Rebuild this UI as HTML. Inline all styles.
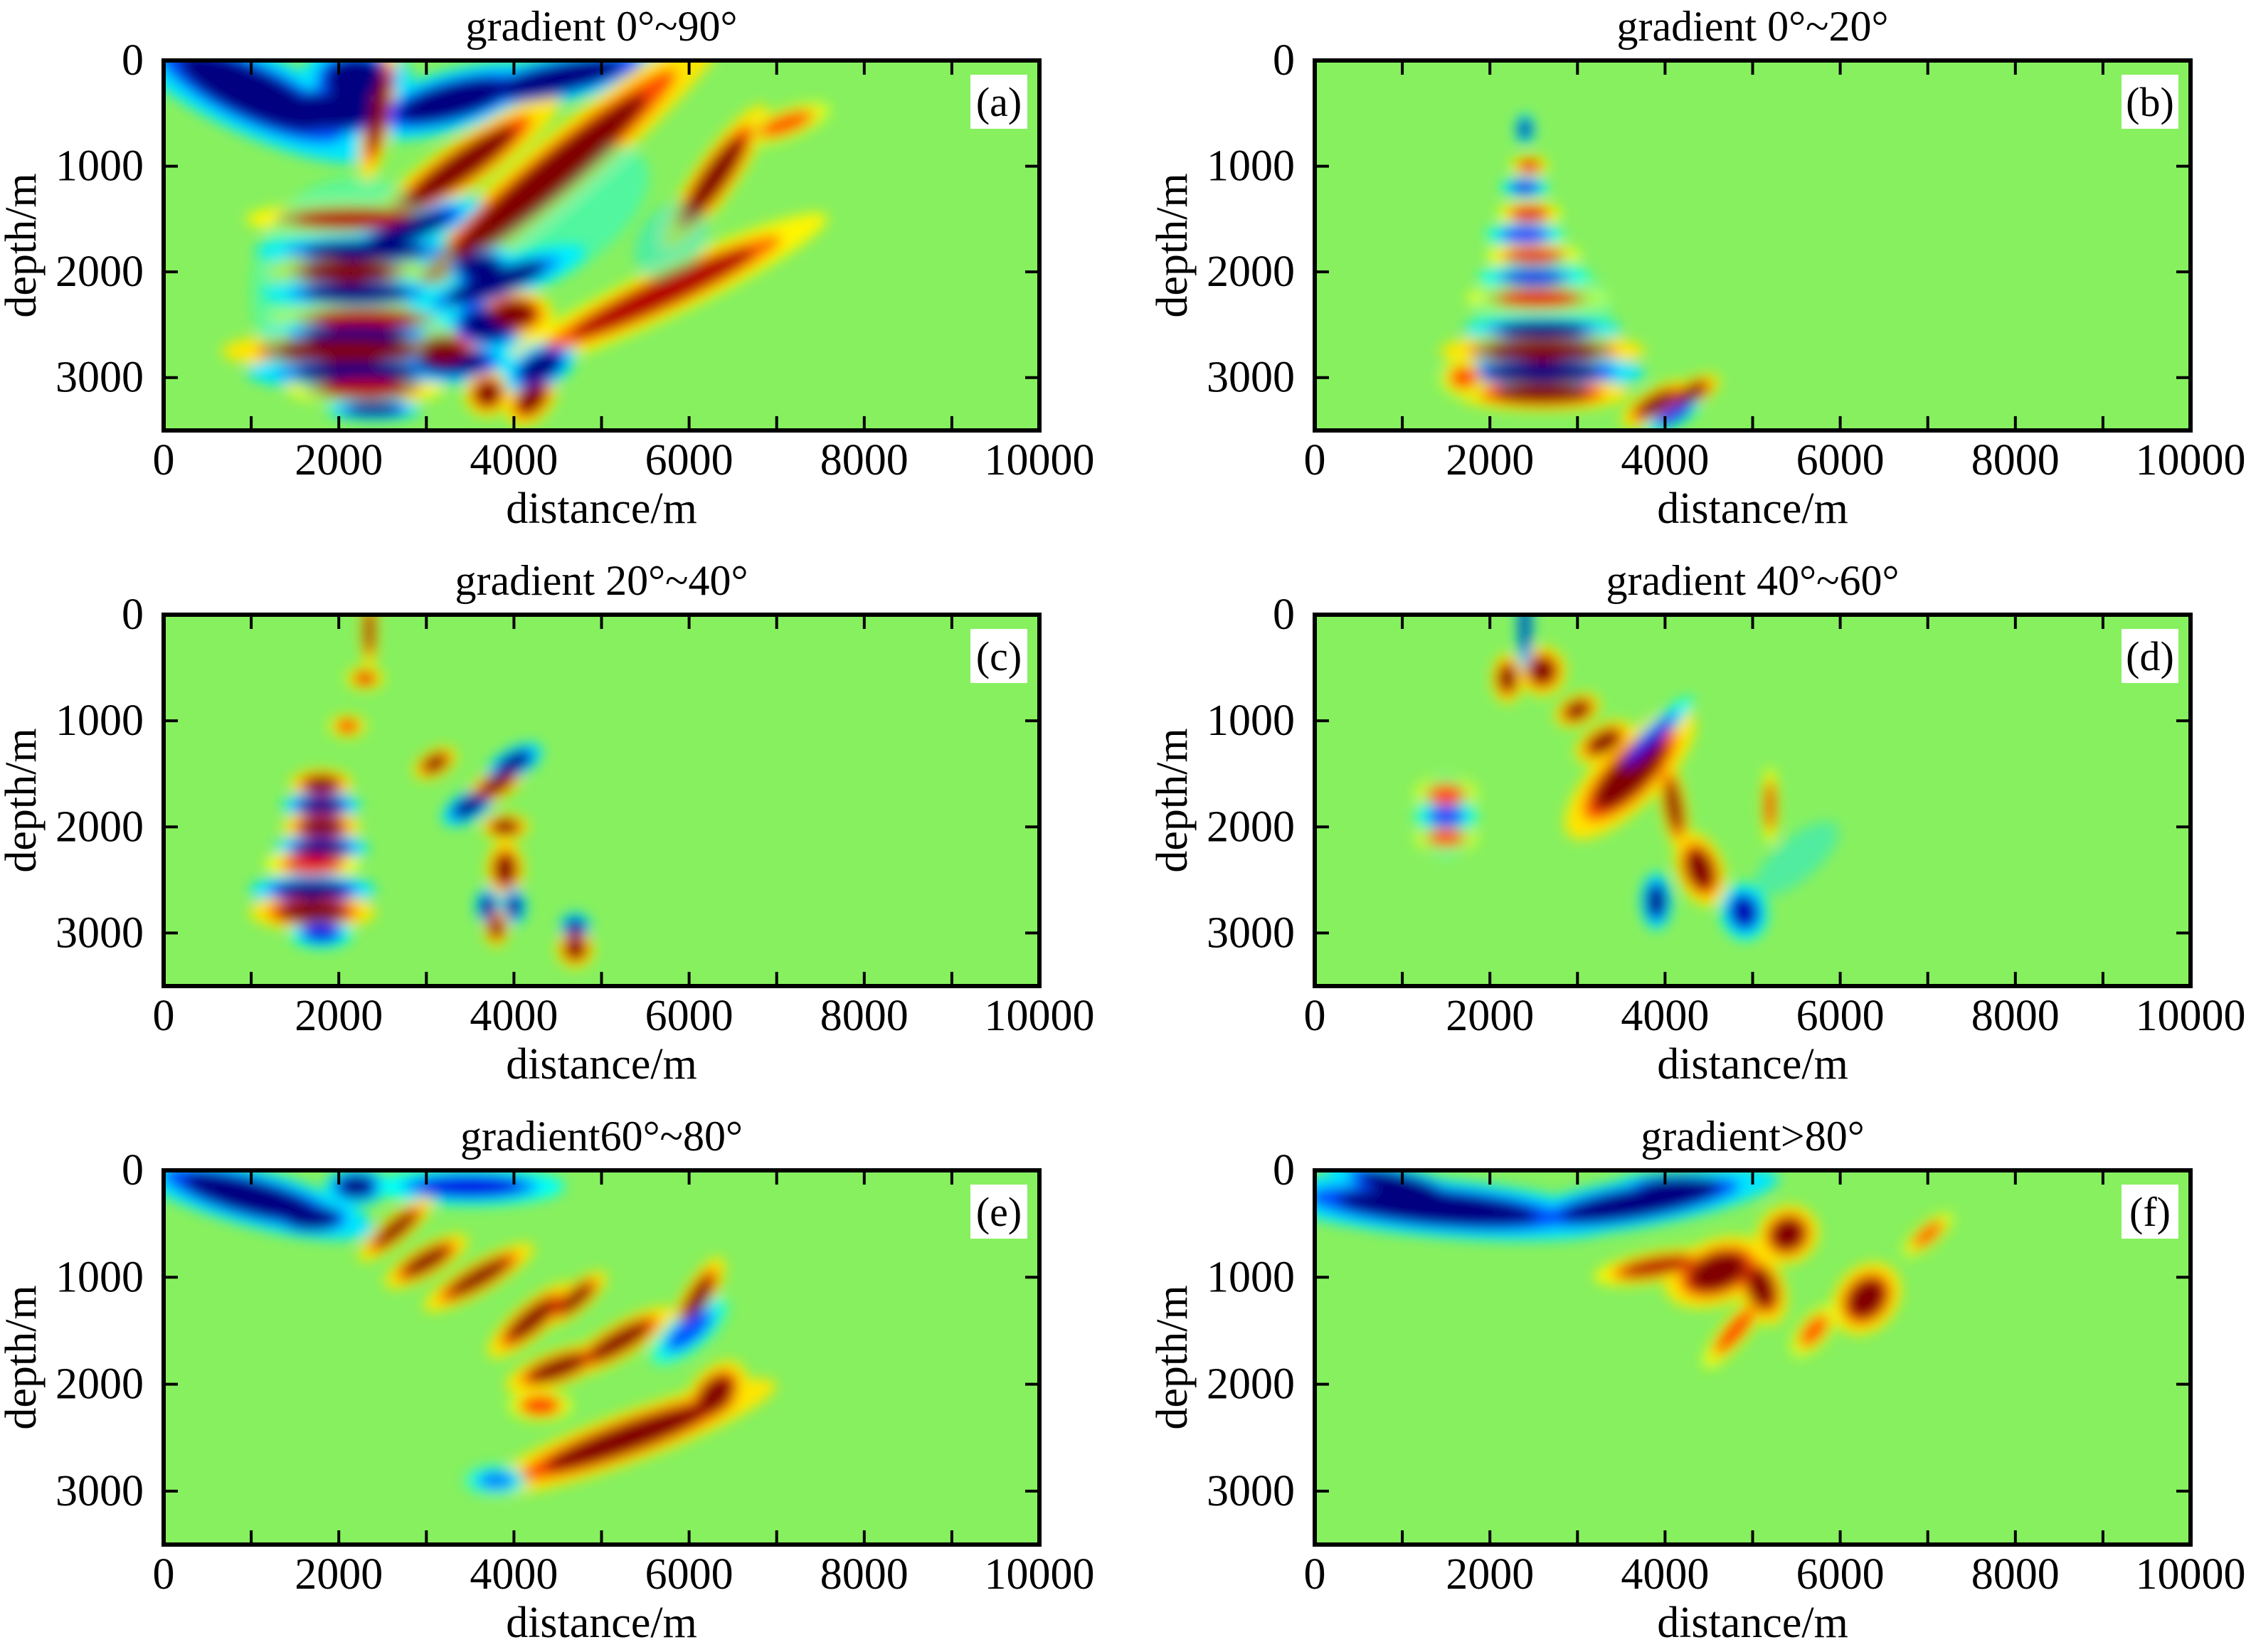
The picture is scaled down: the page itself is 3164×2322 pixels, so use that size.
<!DOCTYPE html>
<html><head><meta charset="utf-8">
<style>
html,body{margin:0;padding:0;background:#fff;}
svg{display:block;}
text{font-family:"Liberation Serif","DejaVu Serif",serif;}
</style></head>
<body>
<svg id="fig" width="3164" height="2322" viewBox="0 0 3164 2322" xmlns="http://www.w3.org/2000/svg" font-family="Liberation Serif, serif">
<defs>
<filter id="soft" x="-10%" y="-10%" width="120%" height="120%"><feGaussianBlur stdDeviation="9"/></filter>
</defs>
</svg>
<script>
// ---- data: blobs [x(m), depth(m), half-length(m), half-width(m), angle(deg), value(-1..1)]
const titles = ["gradient 0°~90°","gradient 0°~20°","gradient 20°~40°","gradient 40°~60°","gradient60°~80°","gradient>80°"];
const tags = ["(a)","(b)","(c)","(d)","(e)","(f)"];
const xTicks = [0,2000,4000,6000,8000,10000];
const yTicks = [0,1000,2000,3000];
const blobsA = [
 [5800,1700,500,300,-50,-0.3],[4500,1500,1200,500,-35,-0.25],[2200,2200,1200,1100,0,-0.2],
 [1000,300,900,220,25,-1],[1900,480,600,170,0,-1],[2200,180,350,200,0,-1],[3300,380,650,160,-15,-1],[4500,170,750,130,-12,-1],
 [2450,500,90,380,10,1],[4400,1100,1450,170,-40,1],[3400,1000,750,130,-35,1],[6300,1100,550,110,-55,1],[5700,2200,1150,130,-25,0.9],
 [7100,600,300,80,-20,0.6],
 [2200,1500,700,90,0,0.9],[2300,1800,700,90,0,-1],[2100,2000,500,110,0,1],[2200,2200,600,90,0,-1],[2300,2450,600,90,0,0.9],[2200,2600,600,90,0,-1],
 [2100,2750,800,110,0,1],[2200,2950,700,100,0,-1],[2300,3100,500,90,0,0.9],[2400,3300,300,60,0,-1],
 [3600,1950,250,120,0,-1],[3800,2100,600,110,-20,-1],[3700,2500,300,150,0,-1],[3300,2850,400,120,0,-1],[4000,2400,250,130,0,1],
 [3700,3150,150,120,-40,1],[4200,3200,200,110,-50,1],[4300,2900,250,120,-30,-1],[3200,2750,250,120,0,1],[2800,1600,500,100,-20,-1]
];
const blobsB = [
 [2600,2500,800,700,0,-0.15],
 [2400,650,60,80,0,-1],[2450,1000,120,60,0,0.8],[2400,1200,150,60,0,-0.8],[2450,1450,200,70,0,0.8],[2400,1650,250,70,0,-0.7],
 [2500,1850,300,70,0,0.8],[2500,2050,350,70,0,-0.8],[2550,2250,450,80,0,0.8],[2600,2550,500,80,0,-1],[2600,2750,650,100,0,1],
 [2600,2950,650,100,0,-1],[2600,3150,550,90,0,1],[3900,3250,250,80,-30,1],[4300,3150,200,70,-30,1],[4100,3350,200,60,-30,-0.8],[1700,3000,150,100,0,0.6]
];
const blobsC = [
 [2350,150,50,200,0,1],[2300,600,120,60,0,0.8],[2100,1050,120,60,0,0.7],[1800,1600,200,80,0,1],[1800,1800,250,80,0,-1],[1800,2000,250,90,0,1],
 [1800,2200,300,80,0,-1],[1700,2350,300,80,0,0.8],[1700,2600,400,90,0,-1],[1700,2800,400,100,0,1],[1800,3000,200,80,0,-0.8],
 [3100,1400,150,70,-30,1],[3500,1800,200,80,-30,-1],[3800,1600,200,80,-30,1],[3900,2000,150,70,0,1],[4000,1400,200,80,-30,-1],
 [3900,2400,120,150,0,1],[3700,2750,80,100,0,-1],[4000,2750,80,100,0,-1],[3800,2950,80,100,0,1],[4700,2950,100,80,0,-1],[4700,3150,120,100,-20,1]
];
const blobsD = [
 [5500,2300,600,200,-40,-0.3],[1500,1900,300,400,0,-0.2],
 [2200,600,100,130,0,1],[2600,530,150,130,0,1],[2400,100,50,250,0,-1],[3000,900,150,80,-25,1],[3300,1200,200,90,-30,1],
 [3600,1500,550,170,-45,1],[3800,1200,400,60,-45,-0.8],[4100,1800,80,250,-10,1],[4400,2400,150,200,-20,1],[3900,2700,100,150,0,-1],
 [4900,2800,150,150,-10,-0.9],[5200,1800,50,200,0,0.8],[1500,1700,200,100,0,0.6],[1500,1900,200,100,0,-0.6],[1500,2100,200,80,0,0.6]
];
const blobsE = [
 [1000,250,800,150,15,-1],[1700,450,300,100,0,-1],[2200,150,200,100,0,-1],[3500,150,600,100,0,-0.8],
 [2650,550,300,70,-40,1],[3000,850,300,80,-30,1],[3600,1000,400,80,-30,1],[4200,1400,350,90,-40,1],[4700,1200,250,70,-40,1],
 [5200,1600,400,90,-30,1],[4500,1850,350,90,-20,1],[6100,1200,300,80,-60,1],[5300,2500,1000,130,-20,1],[6300,2100,250,130,-50,1],
 [4300,2200,200,80,0,0.7],[3800,2900,200,80,0,-0.5],[6000,1500,300,100,-40,-0.6]
];
const blobsF = [
 [1400,350,1150,150,5,-1],[1000,150,500,100,15,-1],[3700,300,900,130,-10,-1],[4200,150,450,80,0,-1],
 [4600,950,350,170,-20,1],[5400,600,200,150,-30,1],[5100,1100,150,200,-20,1],[6300,1200,250,160,-50,1],[3900,900,400,80,-10,0.9],
 [4800,1500,300,70,-50,0.7],[7000,600,200,60,-40,0.6],[5700,1500,200,80,-50,0.6]
];
const allBlobs = [blobsA,blobsB,blobsC,blobsD,blobsE,blobsF];

const NS = "http://www.w3.org/2000/svg";
const svg = document.getElementById('fig');
const colX = [230,1848], rowY = [[85,605],[864,1386],[1645,2171]], W = 1231;
const XMAX = 10000, ZMAX = 3500;
const FONT = '"Liberation Serif", serif';

function jet(v){ // v in [-1,1]
  const t = (v+1)/2;
  const r = Math.max(0,Math.min(1,1.5-Math.abs(4*t-3)));
  const g = Math.max(0,Math.min(1,1.5-Math.abs(4*t-2)));
  const b = Math.max(0,Math.min(1,1.5-Math.abs(4*t-1)));
  return `rgb(${Math.round(r*255)},${Math.round(g*255)},${Math.round(b*255)})`;
}
function el(tag, attrs, parent){ const e=document.createElementNS(NS,tag); for(const k in attrs) e.setAttribute(k,attrs[k]); (parent||svg).appendChild(e); return e; }
function txt(attrs,parent){ attrs['font-family']=FONT; return el('text',attrs,parent); }

for(let p=0;p<6;p++){
  const x0 = colX[p%2], y0 = rowY[Math.floor(p/2)][0], y1 = rowY[Math.floor(p/2)][1], H = y1-y0;
  const sx = v => x0 + v/XMAX*W;
  const sy = v => y0 + v/ZMAX*H;
  const g = el('g',{});
  
  
  const cid = 'clip'+p;
  const cp = el('clipPath',{id:cid},g); el('rect',{x:x0,y:y0,width:W,height:H},cp);
  const heat = el('g',{'clip-path':`url(#${cid})`},g);
  
  
  el('rect',{x:x0,y:y0,width:W,height:H,fill:'rgb(135,240,95)'},heat);
  const bl = el('g',{filter:'url(#soft)'},heat);
  const list = allBlobs[p];
  [[1.8,0.3],[1.3,0.6],[1,1]].forEach(([s,f])=>{
    list.forEach(b=>{
      const [bx,bz,a,c,ang,v] = b;
      const weak = Math.abs(v)<0.35;
      if(weak && s!==1) return;
      const val = weak ? v : v*f;
      const e = el('ellipse',{cx:sx(bx),cy:sy(bz),rx:a/XMAX*W*s,ry:c/ZMAX*H*s,
        transform:`rotate(${ang} ${sx(bx)} ${sy(bz)})`,fill:jet(val)},bl);
      if(weak) e.setAttribute('opacity','0.4');
      
      
    });
  });
  el('rect',{x:x0,y:y0,width:W,height:H,fill:'none',stroke:'#000','stroke-width':6},g);
  for(let t=0;t<=XMAX;t+=1000){
    el('line',{x1:sx(t),x2:sx(t),y1:y1,y2:y1-20,stroke:'#000','stroke-width':4},g);
    el('line',{x1:sx(t),x2:sx(t),y1:y0,y2:y0+20,stroke:'#000','stroke-width':4},g);
  }
  xTicks.forEach(t=>{
    const tx = txt({x:sx(t),y:y1+62,'font-size':62,'text-anchor':'middle'},g);
    
    
    tx.textContent = t;
  });
  yTicks.forEach(t=>{
    el('line',{x1:x0,x2:x0+20,y1:sy(t),y2:sy(t),stroke:'#000','stroke-width':4},g);
    el('line',{x1:x0+W,x2:x0+W-20,y1:sy(t),y2:sy(t),stroke:'#000','stroke-width':4},g);
    const ty = txt({x:x0-28,y:sy(t)+20,'font-size':62,'text-anchor':'end'},g);
    
    
    ty.textContent = t;
  });
  const xl = txt({x:x0+W/2,y:y1+130,'font-size':62,'text-anchor':'middle'},g);
  
  
  xl.textContent='distance/m';
  const yl = txt({x:0,y:0,'font-size':62,'text-anchor':'middle',transform:`translate(${x0-180},${y0+H/2}) rotate(-90)`},g);
  
  
  yl.textContent='depth/m';
  const tt = txt({x:x0+W/2,y:y0-28,'font-size':60,'text-anchor':'middle'},g);
  
  
  tt.textContent=titles[p];
  el('rect',{x:x0+W-97,y:y0+20,width:80,height:76,fill:'#fff'},g);
  const tg = txt({x:x0+W-57,y:y0+78,'font-size':58,'text-anchor':'middle'},g);
  
  
  tg.textContent=tags[p];
}
</script>
</body></html>
